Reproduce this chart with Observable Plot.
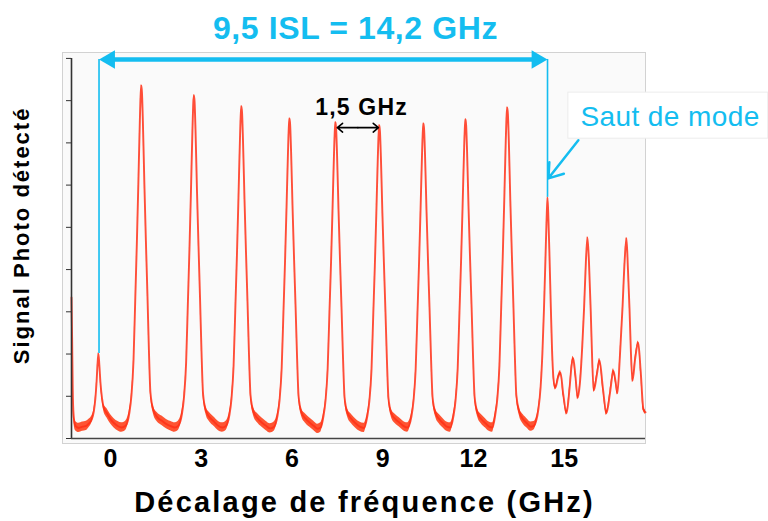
<!DOCTYPE html>
<html><head><meta charset="utf-8">
<script src="https://cdn.jsdelivr.net/npm/d3@7"></script>
<script src="https://cdn.jsdelivr.net/npm/@observablehq/plot@0.6"></script>
<style>body{margin:0;background:#fff;} svg{display:block;}</style>
</head><body><div id="chart"></div>
<script>
// ---- data ----
const xTicks = [0, 3, 6, 9, 12, 15];
const yTicks = [0, 1, 2, 3, 4, 5, 6, 7, 8, 9];
const xDomain = [-1.29, 17.69];
const yDomain = [0, 9.14];

// trace: [frequency offset (GHz), detected signal, noise half-width]
const trace = [
  // left edge and first (weak) mode
  [-1.29,3.34,0.02],[-1.27,2.4,0.04],[-1.25,1.2,0.08],[-1.22,0.55,0.1],[-1.16,0.3,0.11],[-1.05,0.25,0.11],[-0.92,0.28,0.11],[-0.8,0.3,0.11],[-0.72,0.35,0.1],
  [-0.62,0.45,0.08],[-0.55,0.65,0.05],[-0.50,0.95,0.04],[-0.46,1.35,0.03],[-0.43,1.75,0.02],[-0.40,2.01,0.02],[-0.37,1.75,0.02],[-0.33,1.3,0.03],[-0.28,0.95,0.05],[-0.22,0.72,0.08],
  [-0.12,0.6,0.11],[0.0,0.46,0.11],[0.12,0.36,0.11],[0.25,0.29,0.11],[0.37,0.26,0.11],[0.50,0.3,0.11],
  // mode 1
  [0.62,0.59,0.08],[0.69,1.0,0.05],[0.76,1.84,0.03],[0.82,3.34,0.02],[0.87,4.6,0.02],[0.92,6.02,0.02],[0.97,7.52,0.02],[1.00,8.19,0.02],[1.02,8.36,0.02],[1.04,8.19,0.02],[1.07,7.52,0.02],[1.12,6.02,0.02],[1.17,4.68,0.02],[1.22,3.43,0.02],[1.27,2.09,0.03],[1.32,1.09,0.05],[1.42,0.67,0.09],
  [1.55,0.5,0.11],[1.70,0.42,0.11],[1.85,0.34,0.11],[2.0,0.29,0.11],[2.12,0.26,0.11],[2.24,0.3,0.11],
  // mode 2
  [2.36,0.57,0.08],[2.43,0.98,0.05],[2.50,1.79,0.03],[2.56,3.25,0.02],[2.61,4.47,0.02],[2.66,5.85,0.02],[2.71,7.32,0.02],[2.74,7.97,0.02],[2.76,8.13,0.02],[2.78,7.97,0.02],[2.81,7.32,0.02],[2.86,5.85,0.02],[2.91,4.55,0.02],[2.96,3.33,0.02],[3.01,2.03,0.03],[3.06,1.06,0.05],[3.16,0.65,0.09],
  [3.28,0.5,0.11],[3.42,0.4,0.11],[3.56,0.3,0.11],[3.70,0.26,0.11],[3.82,0.3,0.11],
  // mode 3
  [3.93,0.55,0.08],[4.00,0.94,0.05],[4.07,1.73,0.03],[4.13,3.15,0.02],[4.18,4.33,0.02],[4.23,5.67,0.02],[4.28,7.08,0.02],[4.31,7.71,0.02],[4.33,7.87,0.02],[4.35,7.71,0.02],[4.38,7.08,0.02],[4.43,5.67,0.02],[4.48,4.41,0.02],[4.53,3.23,0.02],[4.58,1.97,0.03],[4.63,1.02,0.05],[4.73,0.63,0.09],
  [4.86,0.48,0.11],[5.0,0.38,0.11],[5.14,0.3,0.11],[5.28,0.24,0.11],[5.41,0.28,0.11],
  // mode 4
  [5.52,0.53,0.08],[5.59,0.91,0.05],[5.66,1.67,0.03],[5.72,3.03,0.02],[5.77,4.17,0.02],[5.82,5.46,0.02],[5.87,6.82,0.02],[5.90,7.43,0.02],[5.92,7.58,0.02],[5.94,7.43,0.02],[5.97,6.82,0.02],[6.02,5.46,0.02],[6.07,4.24,0.02],[6.12,3.11,0.02],[6.17,1.9,0.03],[6.22,0.99,0.05],[6.32,0.61,0.09],
  [6.45,0.47,0.11],[6.58,0.38,0.11],[6.72,0.3,0.11],[6.85,0.23,0.11],[6.95,0.26,0.11],
  // mode 5
  [7.04,0.52,0.08],[7.11,0.9,0.05],[7.18,1.65,0.03],[7.24,3.0,0.02],[7.29,4.12,0.02],[7.34,5.39,0.02],[7.39,6.74,0.02],[7.42,7.34,0.02],[7.44,7.49,0.02],[7.46,7.34,0.02],[7.49,6.74,0.02],[7.54,5.39,0.02],[7.59,4.19,0.02],[7.64,3.07,0.02],[7.69,1.87,0.03],[7.74,0.97,0.05],[7.84,0.6,0.09],
  [7.97,0.46,0.11],[8.10,0.36,0.11],[8.24,0.28,0.11],[8.38,0.25,0.11],
  // mode 6
  [8.49,0.52,0.08],[8.56,0.89,0.05],[8.63,1.63,0.03],[8.69,2.97,0.02],[8.74,4.08,0.02],[8.79,5.34,0.02],[8.84,6.68,0.02],[8.87,7.27,0.02],[8.89,7.42,0.02],[8.91,7.27,0.02],[8.94,6.68,0.02],[8.99,5.34,0.02],[9.04,4.16,0.02],[9.09,3.04,0.02],[9.14,1.86,0.03],[9.19,0.96,0.05],[9.29,0.59,0.09],
  [9.42,0.46,0.11],[9.55,0.38,0.11],[9.68,0.3,0.11],[9.82,0.26,0.11],
  // mode 7
  [9.95,0.52,0.08],[10.02,0.9,0.05],[10.09,1.64,0.03],[10.15,2.98,0.02],[10.20,4.1,0.02],[10.25,5.37,0.02],[10.30,6.71,0.02],[10.33,7.31,0.02],[10.35,7.46,0.02],[10.37,7.31,0.02],[10.40,6.71,0.02],[10.45,5.37,0.02],[10.50,4.18,0.02],[10.55,3.06,0.02],[10.60,1.87,0.03],[10.65,0.97,0.05],[10.75,0.6,0.09],
  [10.88,0.45,0.11],[11.0,0.36,0.11],[11.12,0.28,0.11],[11.24,0.26,0.11],
  // mode 8
  [11.34,0.53,0.08],[11.41,0.91,0.05],[11.48,1.66,0.03],[11.54,3.02,0.02],[11.59,4.16,0.02],[11.64,5.44,0.02],[11.69,6.8,0.02],[11.72,7.41,0.02],[11.74,7.56,0.02],[11.76,7.41,0.02],[11.79,6.8,0.02],[11.84,5.44,0.02],[11.89,4.23,0.02],[11.94,3.1,0.02],[11.99,1.89,0.03],[12.04,0.98,0.05],[12.14,0.6,0.09],
  [12.27,0.45,0.11],[12.40,0.36,0.11],[12.52,0.28,0.11],[12.63,0.26,0.11],
  // mode 9
  [12.72,0.55,0.08],[12.79,0.94,0.05],[12.86,1.72,0.03],[12.92,3.14,0.02],[12.97,4.31,0.02],[13.02,5.64,0.02],[13.07,7.06,0.02],[13.10,7.68,0.02],[13.12,7.84,0.02],[13.14,7.68,0.02],[13.17,7.06,0.02],[13.22,5.64,0.02],[13.27,4.39,0.02],[13.32,3.21,0.02],[13.37,1.96,0.03],[13.42,1.02,0.05],[13.52,0.63,0.09],
  [13.65,0.45,0.11],[13.77,0.36,0.11],[13.90,0.28,0.11],[14.0,0.3,0.1],
  // mode 10 (mode hop)
  [14.07,0.4,0.08],[14.15,0.7,0.05],[14.22,1.2,0.03],[14.28,2.0,0.02],[14.33,3.0,0.02],[14.38,4.2,0.02],[14.42,5.2,0.02],[14.45,5.71,0.02],[14.48,5.2,0.02],[14.52,4.2,0.02],[14.56,3.1,0.02],[14.60,2.1,0.03],[14.65,1.4,0.04],
  [14.71,1.2,0.05],[14.80,1.45,0.05],[14.88,1.56,0.05],[14.97,1.05,0.05],[15.08,0.6,0.05],[15.18,1.2,0.05],[15.25,1.75,0.05],[15.30,1.9,0.05],[15.37,1.5,0.05],[15.45,0.97,0.05],
  [15.52,1.3,0.04],[15.60,2.2,0.03],[15.66,3.1,0.02],[15.72,4.2,0.02],[15.77,4.76,0.02],[15.82,4.2,0.02],[15.88,3.0,0.02],[15.93,1.8,0.03],
  [15.98,1.14,0.05],[16.08,1.5,0.05],[16.17,1.85,0.05],[16.28,1.2,0.05],[16.40,0.6,0.05],[16.52,1.1,0.05],[16.63,1.6,0.05],[16.70,1.35,0.05],[16.76,1.07,0.04],
  [16.84,1.9,0.03],[16.93,3.1,0.02],[17.00,4.2,0.02],[17.06,4.74,0.02],[17.11,4.0,0.02],[17.16,3.1,0.02],[17.21,2.0,0.03],
  [17.26,1.37,0.05],[17.35,1.9,0.05],[17.45,2.27,0.04],[17.53,1.6,0.05],[17.62,0.7,0.05],[17.69,0.62,0.05]
];

// ISL annotation: first peak and mode-hop peak
const islFreq = [-0.38, 14.45];
const islPeak = [2.01, 5.71];
const islLevel = 8.975;
const islLabel = "9,5 ISL = 14,2 GHz";
const islLabelPos = [8.10, 9.47];

const fsrLabel = "1,5 GHz";
const fsrLabelPos = [8.30, 7.65];
const fsrArrow = [7.50, 8.86, 7.36]; // x1, x2, y

const hopLabel = "Saut de mode";
const hopLabelPos = [15.54, 7.41];
const hopBox = [15.14, 21.75, 7.10, 8.19];
const hopArrow = [15.47, 7.06, 14.48, 6.16];

const xLabel = "Décalage de fréquence (GHz)";
const xLabelPos = [8.40, -1.75];
const yLabel = "Signal Photo détecté";
const yLabelPos = [-2.68, 4.81];

// ---- chart ----
const cyan = "#14bdf0";
const red = "#ff2a00";
const font = "'Liberation Sans', Arial, Helvetica, sans-serif";
const data = trace.map(([f, s, n]) => ({f, s, lo: Math.max(0, s - n), hi: s + n}));
const islData = islFreq.map((f, i) => ({f, top: islPeak[i]}));
const midFsr = (fsrArrow[0] + fsrArrow[1]) / 2;

const chart = Plot.plot({
  width: 768, height: 521,
  marginLeft: 71, marginRight: 123, marginTop: 52, marginBottom: 83,
  style: {fontFamily: font, background: "#fff", overflow: "visible"},
  x: {domain: xDomain},
  y: {domain: yDomain},
  marks: [
    Plot.frame({fill: "#fafafa", stroke: "#d2d2d2", insetLeft: -9, insetBottom: -5}),
    Plot.areaY(data, {x: "f", y1: "lo", y2: "hi", fill: red, fillOpacity: 0.8, curve: "monotone-x"}),
    Plot.line(data, {x: "f", y: "s", stroke: "#ff3018", strokeWidth: 1.9, strokeOpacity: 0.85, curve: "monotone-x"}),
    Plot.ruleX([xDomain[0]], {y1: 0, y2: 9, stroke: "#333", strokeWidth: 1.6}),
    Plot.ruleY([0], {stroke: "#444", strokeWidth: 1.6}),
    Plot.axisY({ticks: yTicks, tickSize: 5, tickFormat: () => "", label: null, stroke: "#333"}),
    Plot.axisX({ticks: xTicks, tickSize: 0, tickPadding: 11, fontSize: 25, fontWeight: "bold", label: null, fill: "#000"}),
    // ISL annotation
    Plot.ruleX(islData, {x: "f", y1: "top", y2: islLevel, stroke: cyan, strokeWidth: 1.6}),
    Plot.ruleY([islLevel], {x1: islFreq[0], x2: islFreq[1], stroke: cyan, strokeWidth: 4.5, insetLeft: 8, insetRight: 8}),
    Plot.dot([islFreq[0]], {x: d => d, y: islLevel, symbol: "triangle", r: 6.8, rotate: -90, fill: cyan, dx: 10.6}),
    Plot.dot([islFreq[1]], {x: d => d, y: islLevel, symbol: "triangle", r: 6.8, rotate: 90, fill: cyan, dx: -10.6}),
    Plot.text([islLabel], {x: islLabelPos[0], y: islLabelPos[1], text: d => d, fill: cyan, fontSize: 32, fontWeight: "bold", lineAnchor: "bottom"}),
    // 1,5 GHz annotation
    Plot.arrow([0], {x1: midFsr, y1: fsrArrow[2], x2: fsrArrow[0], y2: fsrArrow[2], stroke: "#000", strokeWidth: 1.6, headLength: 7, headAngle: 80}),
    Plot.arrow([0], {x1: midFsr, y1: fsrArrow[2], x2: fsrArrow[1], y2: fsrArrow[2], stroke: "#000", strokeWidth: 1.6, headLength: 7, headAngle: 80}),
    Plot.text([fsrLabel], {x: fsrLabelPos[0], y: fsrLabelPos[1], text: d => d, fill: "#000", fontSize: 23, fontWeight: "bold", lineAnchor: "bottom"}),
    // mode hop annotation
    Plot.rect([0], {x1: hopBox[0], x2: hopBox[1], y1: hopBox[2], y2: hopBox[3], fill: "#fff", stroke: "#ececec"}),
    Plot.text([hopLabel], {x: hopLabelPos[0], y: hopLabelPos[1], text: d => d, fill: cyan, fontSize: 28, textAnchor: "start", lineAnchor: "bottom"}),
    Plot.arrow([0], {x1: hopArrow[0], y1: hopArrow[1], x2: hopArrow[2], y2: hopArrow[3], stroke: cyan, strokeWidth: 2.5, headLength: 10, headAngle: 70}),
    // axis titles
    Plot.text([xLabel], {x: xLabelPos[0], y: xLabelPos[1], text: d => d, fill: "#000", fontSize: 29, fontWeight: "bold", lineAnchor: "bottom"}),
    Plot.text([yLabel], {x: yLabelPos[0], y: yLabelPos[1], text: d => d, fill: "#000", fontSize: 22, fontWeight: "bold", rotate: -90, lineAnchor: "bottom"})
  ]
});

// extra letter spacing (the original text is rendered slightly wide)
const spacing = new Map([[islLabel, 0.6], [fsrLabel, 1.2], [xLabel, 2.2], [yLabel, 2], [hopLabel, 0.4]]);
chart.querySelectorAll("text").forEach(t => {
  const v = spacing.get(t.textContent);
  if (v != null) t.setAttribute("letter-spacing", v);
});
document.getElementById("chart").append(chart);
</script>
</body></html>
